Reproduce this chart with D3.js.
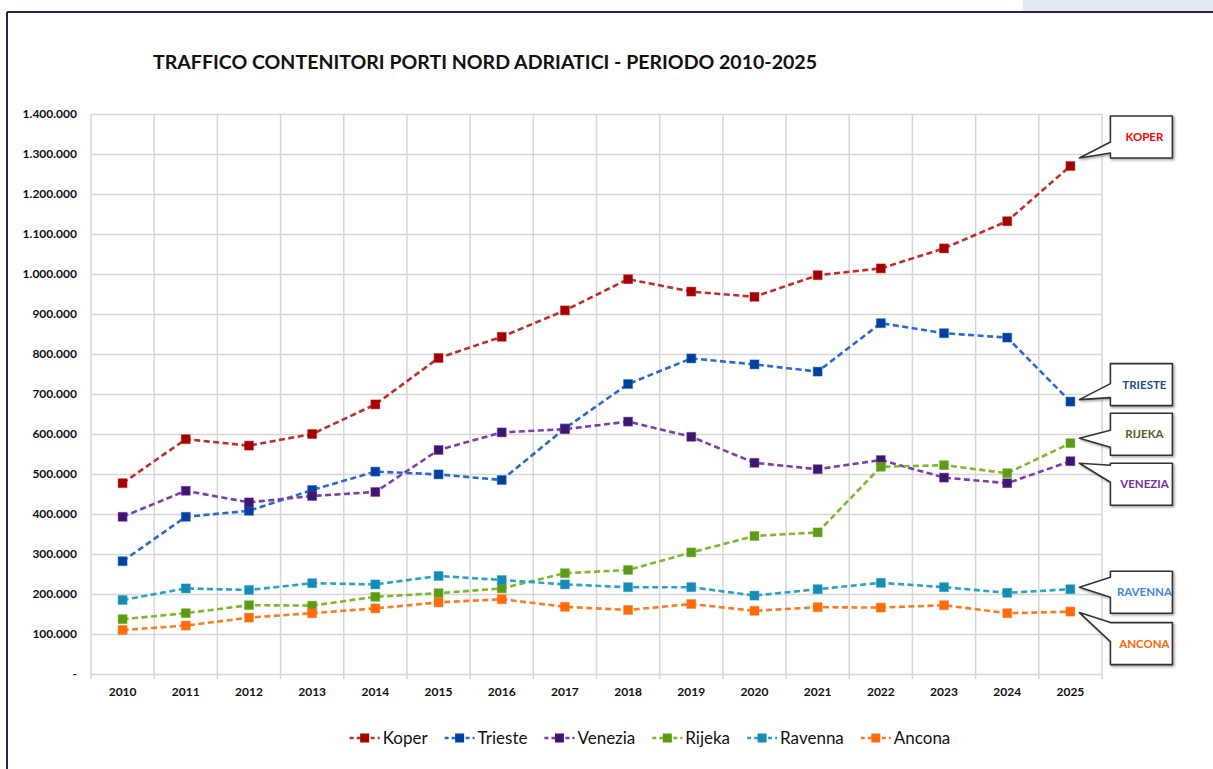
<!DOCTYPE html>
<html>
<head>
<meta charset="utf-8">
<script src="https://cdn.jsdelivr.net/npm/d3@7"></script>
<style>
  html, body { margin: 0; padding: 0; background: #fff; }
  svg { display: block; }
</style>
</head>
<body>
<div id="chart"></div>
<script>
// --- data (TEU per year) ---
var years = ["2010", "2011", "2012", "2013", "2014", "2015", "2016", "2017",
             "2018", "2019", "2020", "2021", "2022", "2023", "2024", "2025"];

var koper   = [477000, 587000, 571000, 600000, 674000, 790000, 843000, 909000, 987000, 956000, 943000, 997000, 1014000, 1064000, 1132000, 1270000];
var trieste = [282000, 393000, 408000, 460000, 506000, 499000, 485000, 614000, 725000, 789000, 774000, 756000, 877000, 852000, 841000, 681000];
var venezia = [393000, 458000, 429000, 445000, 455000, 560000, 604000, 612000, 631000, 593000, 528000, 512000, 535000, 491000, 477000, 532000];
var rijeka  = [137000, 152000, 172000, 171000, 193000, 202000, 214000, 252000, 260000, 304000, 345000, 354000, 518000, 522000, 502000, 577000];
var ravenna = [185000, 214000, 210000, 227000, 224000, 245000, 235000, 224000, 217000, 217000, 196000, 212000, 228000, 217000, 203000, 212000];
var ancona  = [110000, 121000, 141000, 152000, 164000, 179000, 187000, 168000, 160000, 175000, 158000, 167000, 166000, 172000, 152000, 156000];

var seriesNames = ["Koper", "Trieste", "Venezia", "Rijeka", "Ravenna", "Ancona"];
var seriesValues = [koper, trieste, venezia, rijeka, ravenna, ancona];

var yTicks = [0, 100000, 200000, 300000, 400000, 500000, 600000, 700000,
              800000, 900000, 1000000, 1100000, 1200000, 1300000, 1400000];

var title = "TRAFFICO CONTENITORI PORTI NORD ADRIATICI - PERIODO 2010-2025";

// --- styling ---
var lineColors   = ["#c42a2a", "#2a68cc", "#7a3db0", "#7cb82a", "#27a3c9", "#ff7a1e"];
var markerColors = ["#a30000", "#033f9e", "#3d176f", "#5c9a17", "#168bb3", "#ff6a0a"];

// callouts at the right end: label, text colour, box top offset from last point,
// tip offset, wedge base (relative to box top)
var callouts = [
  { label: "KOPER",   color: "#ff0000", boxDy: -50, tipDy: -8, wedge: [26, 37] },
  { label: "TRIESTE", color: "#1f4e8c", boxDy: -38, tipDy: -2, wedge: [20, 34] },
  { label: "VENEZIA", color: "#7030a0", boxDy:   2, tipDy:  2, wedge: [2, 19] },
  { label: "RIJEKA",  color: "#4f6228", boxDy: -30, tipDy: -5, wedge: [17, 34] },
  { label: "RAVENNA", color: "#3f87dc", boxDy: -18, tipDy: -2, wedge: [6, 26] },
  { label: "ANCONA",  color: "#ff6600", boxDy:  11, tipDy:  1, wedge: [0, 19] }
];

!function () {
  "use strict";

  var W = 1213, H = 769;
  var plot = { left: 91, right: 1102, top: 114, bottom: 674 };

  var svg = d3.select("#chart").append("svg")
    .attr("width", W)
    .attr("height", H);

  var defs = svg.append("defs");
  var shadow = defs.append("filter").attr("id", "shadow")
    .attr("x", "-20%").attr("y", "-20%").attr("width", "150%").attr("height", "150%");
  shadow.append("feDropShadow")
    .attr("dx", 1.5).attr("dy", 1.5).attr("stdDeviation", 1)
    .attr("flood-color", "#000").attr("flood-opacity", 0.35);

  // frame
  svg.append("rect")
    .attr("x", 1023).attr("y", 0).attr("width", W - 1023).attr("height", 11)
    .attr("fill", "#e3eaf4");
  svg.append("line")
    .attr("x1", 7).attr("x2", W).attr("y1", 12).attr("y2", 12)
    .attr("stroke", "#1d2752").attr("stroke-width", 2);
  svg.append("line")
    .attr("x1", 7).attr("x2", 7).attr("y1", 12).attr("y2", H)
    .attr("stroke", "#1d2752").attr("stroke-width", 2);

  // title
  svg.append("text")
    .attr("x", 153).attr("y", 69)
    .attr("textLength", 664)
    .attr("lengthAdjust", "spacingAndGlyphs")
    .style("font-family", "Lato, 'Liberation Sans', sans-serif")
    .style("font-weight", "bold")
    .style("font-size", "19px")
    .style("fill", "#111")
    .text(title);

  var x = d3.scaleBand()
    .domain(years)
    .range([plot.left, plot.right])
    .paddingInner(0).paddingOuter(0);

  var y = d3.scaleLinear()
    .domain([0, 1400000])
    .range([plot.bottom, plot.top]);

  var locale = d3.formatLocale({ decimal: ",", thousands: ".", grouping: [3], currency: ["", ""] });
  var fmt = locale.format(",d");

  // horizontal grid + y labels
  var yAxis = svg.append("g")
    .attr("transform", "translate(" + plot.left + ",0)")
    .call(d3.axisLeft(y)
      .tickValues(yTicks)
      .tickSize(-(plot.right - plot.left))
      .tickPadding(14)
      .tickFormat(function (d) { return d === 0 ? "-" : fmt(d); }));
  yAxis.select(".domain").remove();
  yAxis.selectAll(".tick line")
    .attr("stroke", "#d6d6d6")
    .attr("stroke-width", 1.5);
  yAxis.selectAll(".tick text")
    .style("font-family", "Lato, 'Liberation Sans', sans-serif")
    .style("font-weight", "bold")
    .style("font-size", "12px")
    .style("fill", "#111");

  // vertical grid at band edges
  var edges = years.map(function (d) { return x(d); }).concat([plot.right]);
  svg.append("g").selectAll("line.vgrid")
    .data(edges)
    .enter().append("line")
    .attr("class", "vgrid")
    .attr("x1", function (d) { return d; })
    .attr("x2", function (d) { return d; })
    .attr("y1", plot.top)
    .attr("y2", plot.bottom + 5)
    .attr("stroke", "#d6d6d6")
    .attr("stroke-width", 1.5);

  // x labels
  var xAxis = svg.append("g")
    .attr("transform", "translate(0," + plot.bottom + ")")
    .call(d3.axisBottom(x).tickSize(0).tickPadding(13));
  xAxis.select(".domain").remove();
  xAxis.selectAll(".tick text")
    .style("font-family", "Lato, 'Liberation Sans', sans-serif")
    .style("font-weight", "bold")
    .style("font-size", "12px")
    .style("fill", "#111");

  var cx = function (d, i) { return x(years[i]) + x.bandwidth() / 2; };

  var line = d3.line()
    .x(function (d, i) { return cx(d, i); })
    .y(function (d) { return y(d); });

  var ms = 9;

  seriesValues.forEach(function (vals, s) {
    var g = svg.append("g").attr("class", "series");
    g.append("path")
      .datum(vals)
      .attr("d", line)
      .attr("fill", "none")
      .attr("stroke", lineColors[s])
      .attr("stroke-width", 2.6)
      .attr("stroke-dasharray", "6,3.5");
    g.selectAll("rect.marker")
      .data(vals)
      .enter().append("rect")
      .attr("class", "marker")
      .attr("x", function (d, i) { return cx(d, i) - ms / 2; })
      .attr("y", function (d) { return y(d) - ms / 2; })
      .attr("width", ms)
      .attr("height", ms)
      .attr("fill", markerColors[s])
      .attr("stroke", lineColors[s])
      .attr("stroke-opacity", 0.45)
      .attr("stroke-width", 1);
  });

  // callouts
  var last = years.length - 1;
  var lastX = x(years[last]) + x.bandwidth() / 2;
  var bw = 62, bh = 42;
  callouts.forEach(function (c, s) {
    var py = y(seriesValues[s][last]);
    var x0 = lastX + 40, x1 = x0 + bw;
    var y0 = py + c.boxDy, y1 = y0 + bh;
    var tx = lastX + 9, ty = py + c.tipDy;
    var p = d3.path();
    p.moveTo(x0, y0);
    p.lineTo(x1, y0);
    p.lineTo(x1, y1);
    p.lineTo(x0, y1);
    p.lineTo(x0, y0 + c.wedge[1]);
    p.lineTo(tx, ty);
    p.lineTo(x0, y0 + c.wedge[0]);
    p.closePath();
    svg.append("path")
      .attr("d", p.toString())
      .attr("fill", "#fff")
      .attr("stroke", "#333")
      .attr("stroke-width", 1.6)
      .attr("stroke-linejoin", "round")
      .attr("filter", "url(#shadow)");
    svg.append("text")
      .attr("x", x0 + bw / 2 + 3)
      .attr("y", y0 + bh / 2)
      .attr("dy", "0.35em")
      .attr("text-anchor", "middle")
      .style("font-family", "Lato, 'Liberation Sans', sans-serif")
      .style("font-weight", "bold")
      .style("font-size", "11.5px")
      .style("fill", c.color)
      .text(c.label);
  });

  // legend
  var legend = svg.append("g").attr("class", "legend");
  var lx = 0, gap = 17, ly = 738;
  seriesNames.forEach(function (name, s) {
    var item = legend.append("g").attr("transform", "translate(" + lx + ",0)");
    item.append("line")
      .attr("x1", 0).attr("x2", 30)
      .attr("y1", ly).attr("y2", ly)
      .attr("stroke", lineColors[s])
      .attr("stroke-width", 2.6)
      .attr("stroke-dasharray", "4,3");
    item.append("rect")
      .attr("x", 15 - ms / 2).attr("y", ly - ms / 2)
      .attr("width", ms).attr("height", ms)
      .attr("fill", markerColors[s]);
    var t = item.append("text")
      .attr("x", 33).attr("y", ly)
      .attr("dy", "0.35em")
      .style("font-family", "Lato, 'Liberation Sans', sans-serif")
      .style("font-size", "17px")
      .style("fill", "#111")
      .text(name);
    lx += 33 + t.node().getComputedTextLength() + gap;
  });
  var total = lx - gap;
  legend.attr("transform", "translate(" + (650 - total / 2) + ",0)");

}.call(this);
</script>
</body>
</html>
